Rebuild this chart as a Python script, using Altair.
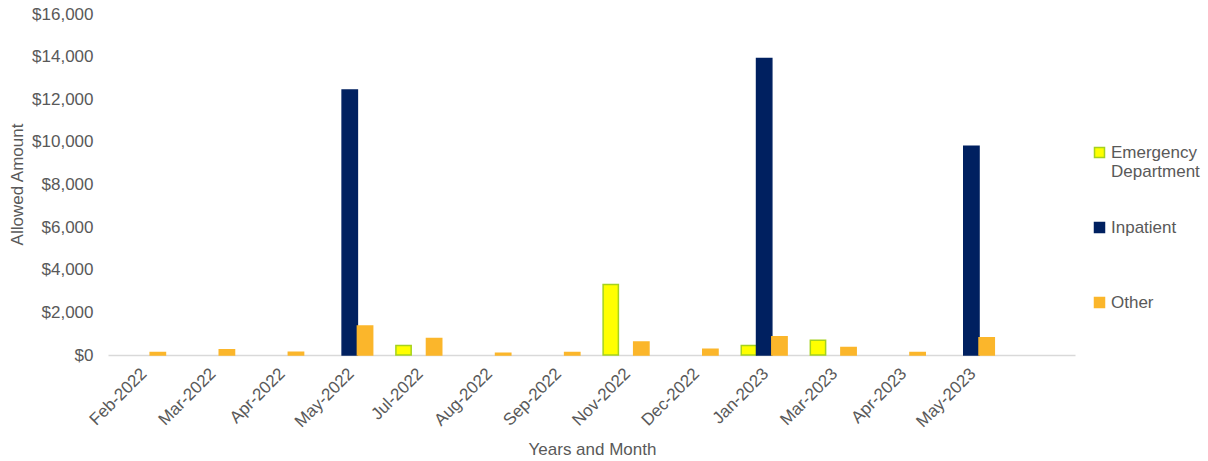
import altair as alt
import pandas as pd

months = ["Feb-2022", "Mar-2022", "Apr-2022", "May-2022", "Jul-2022", "Aug-2022",
          "Sep-2022", "Nov-2022", "Dec-2022", "Jan-2023", "Mar-2023", "Apr-2023", "May-2023"]
emergency = [0, 0, 0, 0, 440, 0, 0, 3310, 0, 450, 690, 0, 0]
inpatient = [0, 0, 0, 12430, 0, 0, 0, 0, 0, 13910, 0, 0, 9800]
other = [120, 250, 130, 1360, 780, 80, 120, 610, 270, 860, 350, 120, 815]

types = ["Emergency Department", "Inpatient", "Other"]
fills = ["#FFFF00", "#002060", "#FBB62B"]
strokes = ["#A5D21E", "#002060", "#FBB62B"]
y_ticks = [0, 2000, 4000, 6000, 8000, 10000, 12000, 14000, 16000]

rows = []
for t, series in zip(types, [emergency, inpatient, other]):
    for m, v in zip(months, series):
        if v > 0:
            rows.append({"month": m, "type": t, "value": v})
df = pd.DataFrame(rows)

FONT = "Liberation Sans"
GRAY = "#595959"

label_expr = ("datum.label == 'Emergency Department' ? ['Emergency', 'Department'] : "
              "[datum.label, '']")

legend = alt.Legend(
    title=None, orient="none", legendX=983, legendY=130,
    symbolType="square", symbolSize=100, symbolStrokeWidth=1.5,
    labelFont=FONT, labelFontSize=17, labelColor=GRAY, labelOffset=3,
    labelExpr=label_expr, rowPadding=38, labelLimit=200,
)

chart = alt.Chart(df).mark_bar(strokeWidth=1.5).encode(
    x=alt.X("month:N", sort=months,
            scale=alt.Scale(domain=months, paddingInner=0, paddingOuter=0.5, align=0),
            axis=alt.Axis(title="Years and Month", labelAngle=-45, ticks=False,
                          domainColor="#D9D9D9", domainWidth=1.5,
                          labelFont=FONT, labelFontSize=17, labelColor=GRAY,
                          labelPadding=10, labelOffset=-4,
                          titleFont=FONT, titleFontSize=17, titleColor=GRAY,
                          titleFontWeight="normal", titleX=484, titleY=94,
                          titleBaseline="middle", titleAnchor="start", titleAlign="center")),
    xOffset=alt.XOffset("type:N", sort=types,
                        scale=alt.Scale(domain=types, paddingInner=0, paddingOuter=0.76)),
    y=alt.Y("value:Q",
            scale=alt.Scale(domain=[0, 16000], nice=False),
            axis=alt.Axis(title="Allowed Amount", values=y_ticks, format="$,.0f",
                          grid=False, domain=False, ticks=False, labelPadding=15,
                          labelFont=FONT, labelFontSize=17, labelColor=GRAY,
                          titleFont=FONT, titleFontSize=17, titleColor=GRAY,
                          titleFontWeight="normal", titleX=-91, titleY=170,
                          titleBaseline="middle", titleAlign="center", titleAnchor="start")),
    color=alt.Color("type:N", sort=types, scale=alt.Scale(domain=types, range=fills),
                    legend=legend),
    stroke=alt.Stroke("type:N", sort=types, scale=alt.Scale(domain=types, range=strokes),
                      legend=legend),
).properties(
    width=967, height=341,
    padding={"left": 108, "top": 14, "right": 133, "bottom": 106},
    autosize=alt.AutoSizeParams(type="none"),
    background="white",
).configure_view(stroke=None)

chart.save("out.html", embed_options={"renderer": "svg", "actions": False})
